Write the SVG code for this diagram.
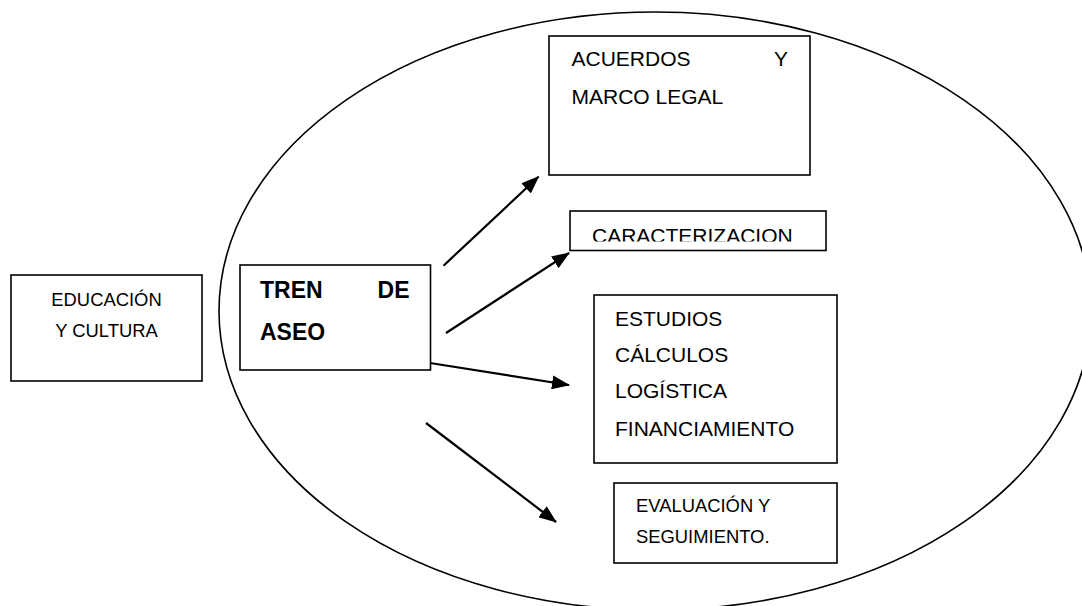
<svg xmlns="http://www.w3.org/2000/svg" width="1082" height="606" viewBox="0 0 1082 606">
<defs>
<style>
.box{fill:#fff;stroke:#000;stroke-width:1.6}
.t{font-family:"Liberation Sans",Arial,sans-serif;font-size:21px;fill:#000}
.s{font-size:18.4px}
.b{font-weight:bold;font-size:23px}
.conn line{stroke:#000;stroke-width:2.2}
</style>
<marker id="ah" viewBox="0 0 18 14" refX="17" refY="7" markerWidth="18" markerHeight="14" markerUnits="userSpaceOnUse" orient="auto">
<path d="M0,0 L18,7 L0,14 z" fill="#000"/>
</marker>
<clipPath id="cc"><rect x="570" y="211" width="256" height="30.5"/></clipPath>
</defs>
<rect width="1082" height="606" fill="#fff"/>
<ellipse id="boundary" cx="655" cy="311" rx="436" ry="299" fill="none" stroke="#000" stroke-width="1.6"/>
<g id="educacion">
<rect class="box" x="11" y="275" width="191" height="106"/>
<text class="t s" x="106.5" y="305.5" text-anchor="middle">EDUCACIÓN</text>
<text class="t s" x="106.5" y="336.7" text-anchor="middle">Y CULTURA</text>
</g>
<g id="tren">
<rect class="box" x="240" y="265" width="190.5" height="105"/>
<text class="t b" x="260" y="298">TREN</text>
<text class="t b" x="409.5" y="298" text-anchor="end">DE</text>
<text class="t b" x="260" y="340">ASEO</text>
</g>
<g id="acuerdos">
<rect class="box" x="549" y="36" width="261" height="139"/>
<text class="t" x="571.5" y="66">ACUERDOS</text>
<text class="t" x="788" y="66" text-anchor="end">Y</text>
<text class="t" x="571.5" y="104">MARCO LEGAL</text>
</g>
<g id="caracterizacion">
<rect class="box" x="570" y="211" width="256" height="39.5"/>
<text class="t" x="592" y="242.5" clip-path="url(#cc)">CARACTERIZACION</text>
</g>
<g id="estudios">
<rect class="box" x="594" y="295" width="243" height="168"/>
<text class="t" x="615" y="325.7">ESTUDIOS</text>
<text class="t" x="615" y="361.7">CÁLCULOS</text>
<text class="t" x="615" y="398">LOGÍSTICA</text>
<text class="t" x="615" y="436">FINANCIAMIENTO</text>
</g>
<g id="evaluacion">
<rect class="box" x="614" y="483" width="223" height="80"/>
<text class="t s" x="636" y="511.7">EVALUACIÓN Y</text>
<text class="t s" x="636" y="543.3">SEGUIMIENTO.</text>
</g>
<g id="connectors" class="conn">
<line x1="443.5" y1="265.7" x2="538.5" y2="176.7" marker-end="url(#ah)"/>
<line x1="446" y1="333" x2="569" y2="253" marker-end="url(#ah)"/>
<line x1="430" y1="363" x2="569" y2="385" marker-end="url(#ah)"/>
<line x1="426" y1="423" x2="556" y2="522" marker-end="url(#ah)"/>
</g>
</svg>
